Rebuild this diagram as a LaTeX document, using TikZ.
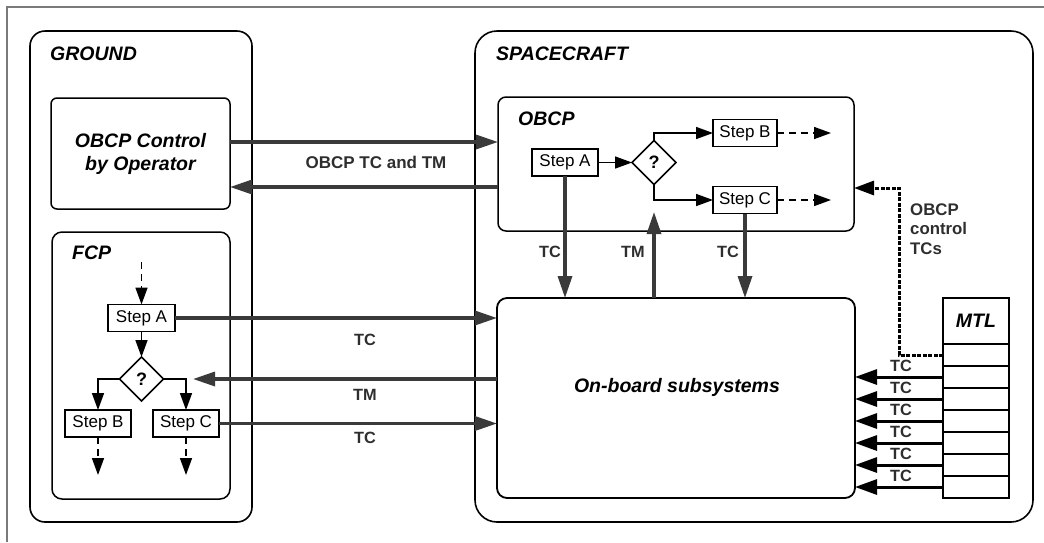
\documentclass[tikz,border=0pt]{standalone}
\usepackage{fontspec}
\setmainfont{Liberation Sans}
\usetikzlibrary{arrows.meta,shapes.geometric,calc}
\definecolor{arrgray}{HTML}{3A3A3A}
\definecolor{lblgray}{HTML}{2E2E2E}
\definecolor{framegray}{HTML}{7A7A7A}
\newcommand\myhdrfont{\fontsize{19.5}{23}\selectfont\bfseries\itshape}
\newcommand\mystepfont{\fontsize{17}{19}\selectfont}
\newcommand\mylblfont{\fontsize{16.3}{19.5}\selectfont\bfseries}
\begin{document}
\begin{tikzpicture}[x=1pt,y=-1pt,
  grp/.style={draw, line width=1.5, inner sep=0, outer sep=0},
  hdr/.style={font=\myhdrfont, inner sep=0},
  stepbox/.style={draw, line width=1.5, inner sep=0, outer sep=0, minimum width=66, minimum height=27, font=\mystepfont},
  dec/.style={draw, diamond, aspect=1, line width=1.5, inner sep=0, outer sep=0, minimum width=44, minimum height=44, font=\fontsize{18}{20}\selectfont\bfseries},
  flow/.style={line width=1.6, -{Triangle[length=17,width=12]}},
  dflow/.style={line width=1.6, dash pattern=on 7 off 5, -{Triangle[length=17,width=12]}},
  big/.style={arrgray, line width=3.3, -{Triangle[length=22,width=14]}},
  mtlarr/.style={black, line width=3, -{Triangle[length=22,width=15]}},
  ctl/.style={black, line width=3, dash pattern=on 4 off 1.5, -{Triangle[length=20,width=14]}},
  lbl/.style={font=\mylblfont, text=lblgray, inner sep=0},
  mtlbox/.style={draw, line width=1.4, inner sep=0, outer sep=0, minimum width=66}
]
\useasboundingbox (0,0) rectangle (1044,542);
% outer frame
\draw[framegray, line width=1.2] (7,542) -- (7,7) -- (1044,7);

% ground side
\node[grp, line width=1.6, minimum width=222, minimum height=491, rounded corners=15] (ground) at (141,276.5) {};
\node[hdr, anchor=base west] (groundlbl) at (50,60) {GROUND};
\node[grp, minimum width=179, minimum height=111, rounded corners=6, align=center, font=\myhdrfont] (ctrl) at (140.5,153.5) {OBCP Control\\by Operator};
\node[grp, minimum width=178, minimum height=267, rounded corners=10] (fcp) at (141,365.5) {};
\node[hdr, anchor=base west] (fcplbl) at (72,259) {FCP};

% spacecraft side
\node[grp, line width=1.6, minimum width=558, minimum height=491, rounded corners=22] (sc) at (754,276.5) {};
\node[hdr, anchor=base west] (sclbl) at (496,60) {SPACECRAFT};
\node[grp, minimum width=356, minimum height=134, rounded corners=8] (obcp) at (676,164) {};
\node[hdr, anchor=base west] (obcplbl) at (518,125) {OBCP};
\node[grp, line width=1.8, minimum width=358, minimum height=200, rounded corners=10] (ob) at (676,398) {};
\node[hdr] (oblbl) at (677,387) {On-board subsystems};

% OBCP flow
\node[stepbox] (osa) at (565,162.5) {Step A};
\node[dec] (od) at (654,162.5) {?};
\node[stepbox, minimum width=64] (osb) at (745,133) {Step B};
\node[stepbox, minimum width=64] (osc) at (745,200) {Step C};
\coordinate (osbout) at (831,133);
\coordinate (oscout) at (831,200);
\draw[flow] (osa) -- (od);
\draw[flow] (od.north) |- (osb.west);
\draw[flow] (od.south) |- (osc.west);
\draw[dflow] (osb.east) -- (osbout);
\draw[dflow] (osc.east) -- (oscout);

% FCP flow
\node[stepbox, minimum width=67] (fsa) at (141.5,318) {Step A};
\node[dec] (fd) at (141.5,379) {?};
\node[stepbox] (fsb) at (98,423.5) {Step B};
\node[stepbox] (fsc) at (186,423.5) {Step C};
\coordinate (fin) at (141.5,262);
\coordinate (fbout) at (98,475);
\coordinate (fcout) at (186,475);
\draw[dflow] (fin) -- (fsa.north);
\draw[flow] (fsa) -- (fd);
\draw[flow] (fd.west) -| (fsb.north);
\draw[flow] (fd.east) -| (fsc.north);
\draw[dflow] (fsb.south) -- (fbout);
\draw[dflow] (fsc.south) -- (fcout);

% ground <-> OBCP
\coordinate (hA) at (0,142);
\coordinate (hB) at (0,187);
\draw[big] (ctrl.east |- hA) -- (obcp.west |- hA);
\draw[big] (obcp.west |- hB) -- (ctrl.east |- hB);
\node[lbl, font=\fontsize{17}{20}\selectfont\bfseries] (tctmlbl) at (376,162) {OBCP TC and TM};

% FCP <-> onboard
\coordinate (tmtip) at (193,379);
\draw[big] (fsa.east) -- (ob.west |- fsa.east);
\draw[big] (ob.west |- tmtip) -- (tmtip);
\draw[big] (fsc.east) -- (ob.west |- fsc.east);
\node[lbl] (l1) at (365,340) {TC};
\node[lbl] (l2) at (365,395) {TM};
\node[lbl] (l3) at (365,438) {TC};

% OBCP <-> onboard
\coordinate (tmup) at (654,212);
\draw[big] (osa.south) -- (osa.south |- ob.north);
\draw[big] (tmup |- ob.north) -- (tmup);
\draw[big] (osc.south) -- (osc.south |- ob.north);
\node[lbl] (l4) at (550,252) {TC};
\node[lbl] (l5) at (633,252) {TM};
\node[lbl] (l6) at (728,252) {TC};

% MTL
\node[mtlbox, minimum height=46, font=\myhdrfont] (mtl) at (976,321) {MTL};
\foreach \i [evaluate=\i as \y using {333+22*\i}] in {1,...,7} {
  \node[mtlbox, minimum height=22] (r\i) at (976,\y) {};
}
\foreach \i [evaluate=\i as \y using {322+22*\i}] in {2,...,7} {
  \draw[mtlarr] (r\i.west) -- (ob.east |- r\i.west);
  \node[lbl] (tc\i) at (901,\y) {TC};
}
\coordinate (bend) at (899,188);
\draw[ctl] (r1.west) -| (bend) -- (obcp.east |- bend);
\node[lbl, anchor=west, align=left, font=\fontsize{16.8}{19.5}\selectfont\bfseries] (ctllbl) at (910,229) {OBCP\\control\\TCs};
\end{tikzpicture}
\end{document}
